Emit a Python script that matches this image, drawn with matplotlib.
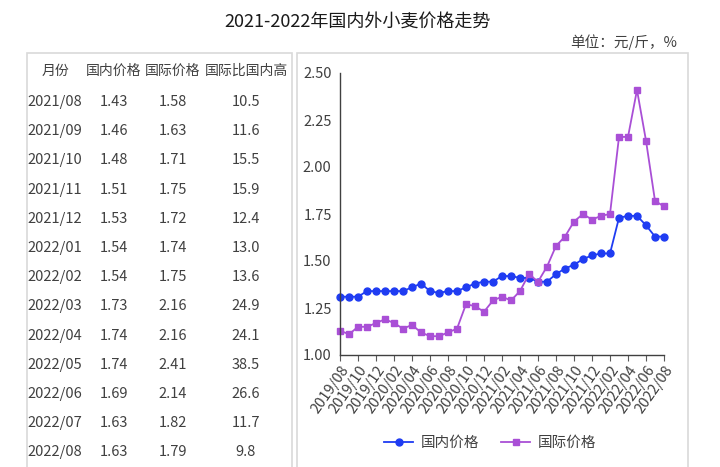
import matplotlib
matplotlib.use("Agg")
import matplotlib.pyplot as plt
from matplotlib.patches import Rectangle

plt.rcParams['font.family'] = ['Noto Sans CJK SC', 'DejaVu Sans']

# monthly prices, 2019/08 - 2022/08 (yuan / jin)
months = ['2019/08', '2019/09', '2019/10', '2019/11', '2019/12',
          '2020/01', '2020/02', '2020/03', '2020/04', '2020/05', '2020/06',
          '2020/07', '2020/08', '2020/09', '2020/10', '2020/11', '2020/12',
          '2021/01', '2021/02', '2021/03', '2021/04', '2021/05', '2021/06',
          '2021/07', '2021/08', '2021/09', '2021/10', '2021/11', '2021/12',
          '2022/01', '2022/02', '2022/03', '2022/04', '2022/05', '2022/06',
          '2022/07', '2022/08']
domestic = [1.31, 1.31, 1.31, 1.34, 1.34, 1.34, 1.34, 1.34, 1.36, 1.38, 1.34,
            1.33, 1.34, 1.34, 1.36, 1.38, 1.39, 1.39, 1.42, 1.42, 1.41, 1.41,
            1.39, 1.39, 1.43, 1.46, 1.48, 1.51, 1.53, 1.54, 1.54, 1.73, 1.74,
            1.74, 1.69, 1.63, 1.63]
international = [1.13, 1.11, 1.15, 1.15, 1.17, 1.19, 1.17, 1.14, 1.16, 1.12,
                 1.10, 1.10, 1.12, 1.14, 1.27, 1.26, 1.23, 1.29, 1.31, 1.29,
                 1.34, 1.43, 1.39, 1.47, 1.58, 1.63, 1.71, 1.75, 1.72, 1.74,
                 1.75, 2.16, 2.16, 2.41, 2.14, 1.82, 1.79]
# 国际比国内高 (%) for the last 13 months
gap = [10.5, 11.6, 15.5, 15.9, 12.4, 13.0, 13.6, 24.9, 24.1, 38.5, 26.6, 11.7, 9.8]
headers = ['月份', '国内价格', '国际价格', '国际比国内高']

W, H = 720, 467
fig = plt.figure(figsize=(7.2, 4.67), dpi=100)
fig.patch.set_facecolor('white')

def fx(px):
    return px / W

def fy(py):
    return 1 - py / H

txt = '#404040'
fig.text(fx(358), fy(22), '2021-2022年国内外小麦价格走势', ha='center', va='center',
         fontsize=13, color='#1a1a1a')
fig.text(fx(677), fy(42), '单位：元/斤，%', ha='right', va='center',
         fontsize=10.5, color=txt)

# frames
for x0, x1 in [(27, 292), (297, 688)]:
    fig.patches.append(Rectangle((fx(x0), -0.1), fx(x1) - fx(x0), fy(53) + 0.1,
                                 transform=fig.transFigure, fill=False,
                                 edgecolor='#d9d9d9', linewidth=1.2))

# table
col_x = [55, 114, 173, 246]
for x, h in zip(col_x, headers):
    fig.text(fx(x), fy(71), h, ha='center', va='center', fontsize=10, color=txt)
n = len(gap)
row_y0, row_dy = 102, 29.2
for i in range(n):
    k = len(months) - n + i
    row = [months[k], f'{domestic[k]:.2f}', f'{international[k]:.2f}', f'{gap[i]:.1f}']
    y = fy(row_y0 + i * row_dy)
    for x, v in zip(col_x, row):
        fig.text(fx(x), y, v, ha='center', va='center', fontsize=10.5, color=txt)

# line chart
ax = fig.add_axes([fx(340), fy(355), fx(664) - fx(340), fy(73) - fy(355)])
xs = list(range(len(months)))
ax.plot(xs, domestic, color='#1f3cf2', marker='o', markersize=5, linewidth=1.3,
        label='国内价格')
ax.plot(xs, international, color='#a94fd6', marker='s', markersize=5, linewidth=1.3,
        label='国际价格')
ax.set_xlim(0, len(months) - 1)
ax.set_ylim(1.0, 2.5)
ax.set_yticks([1.0, 1.25, 1.5, 1.75, 2.0, 2.25, 2.5])
ax.set_yticklabels([f'{v:.2f}' for v in [1.0, 1.25, 1.5, 1.75, 2.0, 2.25, 2.5]])
ax.set_xticks(xs[::2])
ax.set_xticklabels(months[::2], rotation=55, ha='right', rotation_mode='anchor')
ax.tick_params(axis='y', length=0, labelsize=10.5, labelcolor=txt, pad=6)
ax.tick_params(axis='x', length=4, labelsize=10.5, labelcolor=txt, color='#595959', pad=2)
for s in ['top', 'right']:
    ax.spines[s].set_visible(False)
for s in ['left', 'bottom']:
    ax.spines[s].set_color('#404040')
    ax.spines[s].set_linewidth(1.0)
for ln in ax.lines:
    ln.set_clip_on(False)

leg = fig.legend(loc='center', bbox_to_anchor=(fx(490), fy(443)), ncol=2, frameon=False,
                 fontsize=10.5, handlelength=2, columnspacing=1.5, handletextpad=0.5)
for t in leg.get_texts():
    t.set_color(txt)

fig.savefig('out.png', dpi=100)
